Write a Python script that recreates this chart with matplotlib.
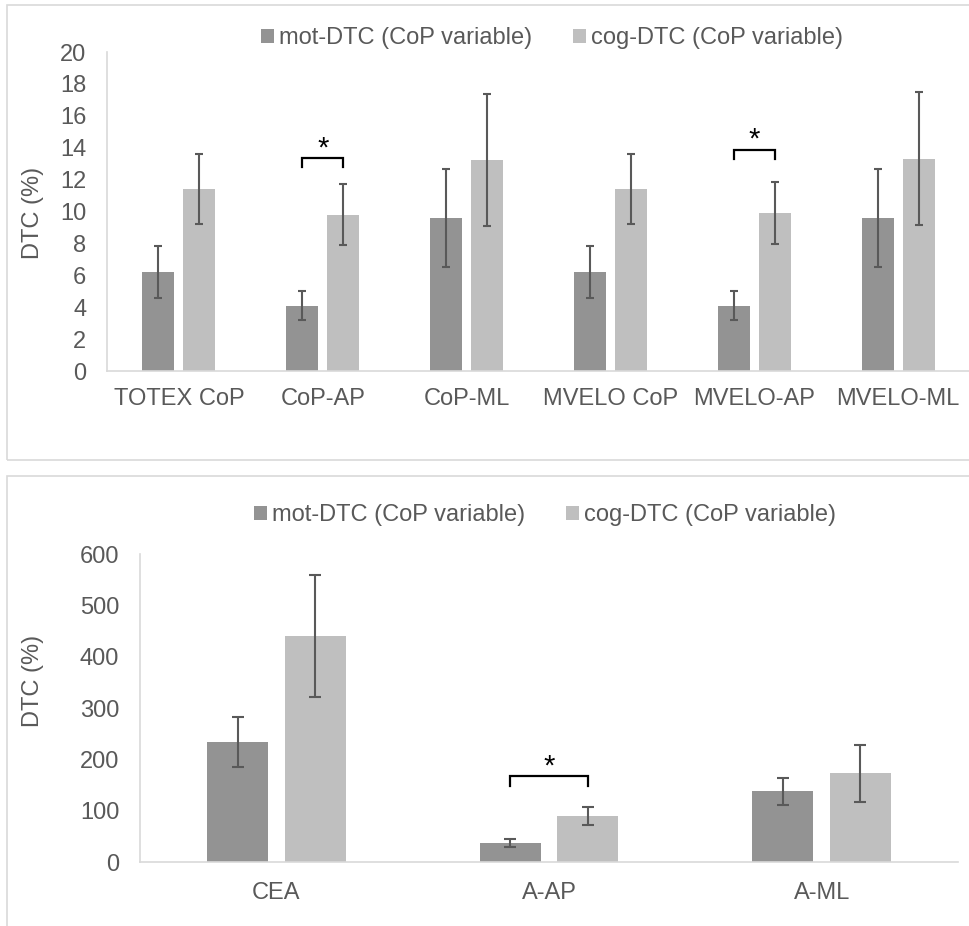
import matplotlib

matplotlib.use("Agg")

import matplotlib.pyplot as plt
from matplotlib.patches import Patch, Rectangle
import numpy as np

plt.rcParams["font.family"] = ["Liberation Sans", "DejaVu Sans"]

W, H = 970, 926

TEXT_COLOR = "#595959"
MOT_COLOR = "#939393"
COG_COLOR = "#bfbfbf"
ERR_COLOR = "#595959"
LINE_COLOR = "#d9d9d9"

SERIES_LABELS = ["mot-DTC (CoP variable)", "cog-DTC (CoP variable)"]

# top panel (CoP variables)
top_categories = ["TOTEX CoP", "CoP-AP", "CoP-ML", "MVELO CoP", "MVELO-AP", "MVELO-ML"]
top_mot = [6.2, 4.1, 9.6, 6.2, 4.1, 9.6]
top_mot_err = [1.63, 0.93, 3.08, 1.63, 0.93, 3.08]
top_cog = [11.4, 9.8, 13.2, 11.4, 9.9, 13.3]
top_cog_err = [2.2, 1.93, 4.14, 2.2, 1.93, 4.17]
top_yticks = [0, 2, 4, 6, 8, 10, 12, 14, 16, 18, 20]
top_sig = [1, 4]
top_sig_level = [13.37, 13.88]

# bottom panel (area variables)
bottom_categories = ["CEA", "A-AP", "A-ML"]
bottom_mot = [234, 38, 138]
bottom_mot_err = [49, 8, 27]
bottom_cog = [441, 90, 173]
bottom_cog_err = [119, 17, 56]
bottom_yticks = [0, 100, 200, 300, 400, 500, 600]
bottom_sig = [1]
bottom_sig_level = [168]


def px_axes(fig, left, right, y_bottom, y_top):
    return fig.add_axes([left / W, 1 - y_bottom / H, (right - left) / W, (y_bottom - y_top) / H])


def draw_panel(ax, categories, mot, mot_err, cog, cog_err, yticks, sig, sig_level,
               width, offset, capsize, drop, star_gap, xpad):
    x = np.arange(len(categories))
    ax.bar(x - offset, mot, width, color=MOT_COLOR)
    ax.bar(x + offset, cog, width, color=COG_COLOR)
    for xs, vals, errs in ((x - offset, mot, mot_err), (x + offset, cog, cog_err)):
        ax.errorbar(xs, vals, yerr=errs, fmt="none", ecolor=ERR_COLOR,
                    elinewidth=1.5, capsize=capsize, capthick=1.5)

    for idx, level in zip(sig, sig_level):
        x0, x1 = idx - offset, idx + offset
        ax.plot([x0, x0, x1, x1], [level - drop, level, level, level - drop],
                color="black", lw=1.6, solid_joinstyle="miter")
        ax.text(idx, level + star_gap, "*", ha="center", va="center",
                fontsize=21, color="black")

    ax.set_xlim(-0.5, len(categories) - 0.5)
    ax.set_ylim(yticks[0], yticks[-1])
    ax.set_xticks(x)
    ax.set_xticklabels(categories)
    ax.set_yticks(yticks)
    ax.tick_params(axis="both", length=0, labelsize=17, labelcolor=TEXT_COLOR)
    ax.tick_params(axis="x", pad=xpad)
    ax.tick_params(axis="y", pad=15)
    for side in ("top", "right"):
        ax.spines[side].set_visible(False)
    for side in ("left", "bottom"):
        ax.spines[side].set_color(LINE_COLOR)
        ax.spines[side].set_linewidth(1.2)
    ax.set_ylabel("DTC (%)", fontsize=17, color=TEXT_COLOR, va="center")


def add_legend(fig, cx, cy):
    handles = [Patch(facecolor=MOT_COLOR), Patch(facecolor=COG_COLOR)]
    fig.legend(handles, SERIES_LABELS, loc="center", bbox_to_anchor=(cx / W, 1 - cy / H),
               ncol=2, frameon=False, fontsize=17, labelcolor=TEXT_COLOR,
               handlelength=0.55, handleheight=0.55, handletextpad=0.2,
               columnspacing=1.75, borderpad=0, borderaxespad=0)


def main() -> None:
    fig = plt.figure(figsize=(W / 100, H / 100), dpi=100)

    # panel frames
    fig.add_artist(Rectangle((7 / W, 1 - 460 / H), 1.2, 455 / H, transform=fig.transFigure,
                             fill=False, edgecolor=LINE_COLOR, lw=1.2))
    fig.add_artist(Rectangle((7 / W, -0.2), 1.2, 0.2 + 1 - 476 / H, transform=fig.transFigure,
                             fill=False, edgecolor=LINE_COLOR, lw=1.2))

    ax_top = px_axes(fig, 107, 970, 371, 52)
    draw_panel(ax_top, top_categories, top_mot, top_mot_err, top_cog, top_cog_err,
               top_yticks, top_sig, top_sig_level, width=0.222, offset=0.1425,
               capsize=3, drop=0.56, star_gap=0.6, xpad=12)
    ax_top.yaxis.set_label_coords((33 - 107) / 863, 0.494)
    add_legend(fig, 552, 38)

    ax_bottom = px_axes(fig, 140, 958, 862.3, 554.3)
    draw_panel(ax_bottom, bottom_categories, bottom_mot, bottom_mot_err, bottom_cog,
               bottom_cog_err, bottom_yticks, bottom_sig, bottom_sig_level,
               width=0.224, offset=0.142, capsize=4.3, drop=19, star_gap=19, xpad=14.5)
    ax_bottom.yaxis.set_label_coords((33 - 140) / 818, 0.589)
    add_legend(fig, 545, 515)

    fig.savefig("out.png", dpi=100)
    plt.close(fig)


if __name__ == "__main__":
    main()
